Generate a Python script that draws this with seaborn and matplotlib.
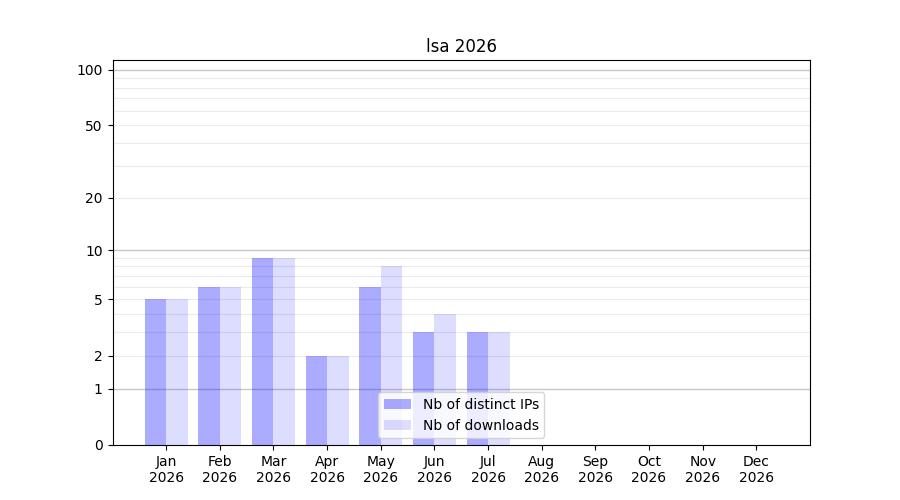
import numpy as np
import pandas as pd
import matplotlib
matplotlib.use("Agg")
import matplotlib.pyplot as plt
import seaborn as sns

months = ["Jan", "Feb", "Mar", "Apr", "May", "Jun", "Jul", "Aug", "Sep", "Oct", "Nov", "Dec"]
year = "2026"
distinct_ips = [5, 6, 9, 2, 6, 3, 3, 0, 0, 0, 0, 0]
downloads = [5, 6, 9, 2, 8, 4, 3, 0, 0, 0, 0, 0]
major_ticks = [0, 1, 2, 5, 10, 20, 50, 100]
strong_grid = [1, 10, 100]
light_grid = [2, 3, 4, 5, 6, 7, 8, 9, 20, 30, 40, 50, 60, 70, 80, 90]

labels = [m + "\n" + year for m in months]
df = pd.DataFrame({
    "month": labels * 2,
    "value": distinct_ips + downloads,
    "kind": ["Nb of distinct IPs"] * 12 + ["Nb of downloads"] * 12,
})

fig, ax = plt.subplots(figsize=(9, 5), dpi=100)
sns.barplot(data=df, x="month", y="value", hue="kind", order=labels,
            palette=[(0, 0, 1, 0.33), (0, 0, 1, 0.135)], saturation=1,
            width=0.8, ax=ax, zorder=2)

# log(1+x) scale so that zero still shows
ax.set_yscale("function", functions=(lambda v: np.log10(1 + np.clip(v, 0, None)),
                                     lambda v: 10 ** v - 1))
ax.set_ylim(0, 113)
ax.set_xlim(-1, 12)
ax.set_yticks(major_ticks)
ax.set_yticklabels([str(t) for t in major_ticks])
ax.yaxis.set_minor_locator(matplotlib.ticker.NullLocator())
for g in light_grid:
    ax.axhline(g, color="#ebebeb", lw=0.8, zorder=0)
for g in strong_grid:
    ax.axhline(g, color="#c8c8c8", lw=1.0, zorder=1)

ax.set_xlabel("")
ax.set_ylabel("")
ax.set_title("lsa 2026")
ax.legend(loc="lower center")
plt.savefig("out.png", dpi=100)
